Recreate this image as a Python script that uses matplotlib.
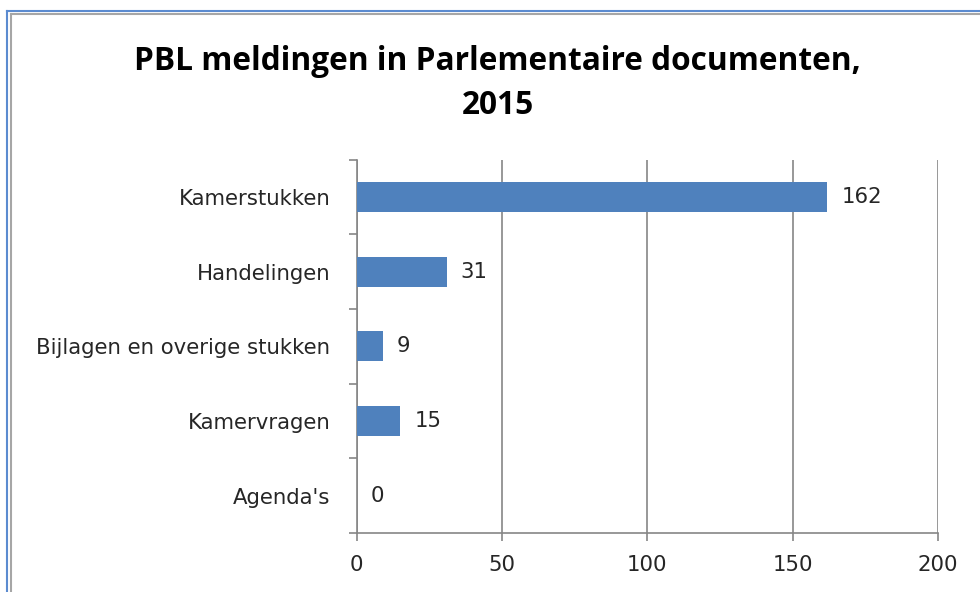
import matplotlib
matplotlib.use("Agg")
import matplotlib.pyplot as plt
from matplotlib.lines import Line2D
import numpy as np

# data (top to bottom as in the chart)
categories = ["Kamerstukken", "Handelingen", "Bijlagen en overige stukken",
              "Kamervragen", "Agenda's"]
values = [162, 31, 9, 15, 0]
xticks = [0, 50, 100, 150, 200]

plt.rcParams['font.family'] = ['DejaVu Sans']

fig = plt.figure(figsize=(9.8, 5.92), dpi=100)
ax = fig.add_axes([0.364, 0.0997, 0.593, 0.6303])

bar_color = "#4F81BD"
axis_color = "#868686"
text_color = "#262626"
label_size = 15.3

ypos = np.arange(len(categories))
ax.barh(ypos, values, height=0.4, color=bar_color, zorder=3)
ax.set_ylim(len(categories) - 0.5, -0.5)
ax.set_xlim(0, 200)

# data labels
for y, v in zip(ypos, values):
    ax.annotate(str(v), xy=(v, y), xytext=(14, 0), textcoords="offset pixels",
                va="center", ha="left", fontsize=label_size, color=text_color)

# axes styling
ax.set_xticks(xticks)
ax.set_xticklabels([str(t) for t in xticks])
ax.set_yticks(ypos)
ax.set_yticklabels(categories)
ax.set_yticks(np.arange(-0.5, len(categories)), minor=True)
ax.tick_params(axis="y", which="major", length=0, pad=19, labelsize=label_size,
               labelcolor=text_color)
ax.tick_params(axis="y", which="minor", length=6, width=1.2, color=axis_color, direction="out")
ax.tick_params(axis="x", length=6, width=1.2, color=axis_color, pad=10, labelsize=label_size,
               labelcolor=text_color, direction="out")
ax.grid(axis="x", color=axis_color, linewidth=1.2, zorder=0)
for side in ["top", "right"]:
    ax.spines[side].set_visible(False)
for side in ["left", "bottom"]:
    ax.spines[side].set_color(axis_color)
    ax.spines[side].set_linewidth(1.2)

# title
fig.text(0.508, 0.859, "PBL meldingen in Parlementaire documenten,\n2015",
         ha="center", va="center", fontsize=22.8, fontweight="bold",
         family=["Open Sans", "DejaVu Sans"], color="black", linespacing=1.46)

# frame of the screenshot (blue outer, gray inner)
W, H = 980.0, 592.0
fig.add_artist(Line2D([6.5 / W, 6.5 / W], [0, 1 - 10.5 / H], color="#5B8BD0", lw=1.5))
fig.add_artist(Line2D([6.5 / W, 1], [1 - 10.5 / H, 1 - 10.5 / H], color="#5B8BD0", lw=1.5))
fig.add_artist(Line2D([10.5 / W, 10.5 / W], [0, 1 - 13.5 / H], color="#A6A6A6", lw=1.5))
fig.add_artist(Line2D([10.5 / W, 1], [1 - 13.5 / H, 1 - 13.5 / H], color="#A6A6A6", lw=1.5))

fig.savefig("out.png", dpi=100)
